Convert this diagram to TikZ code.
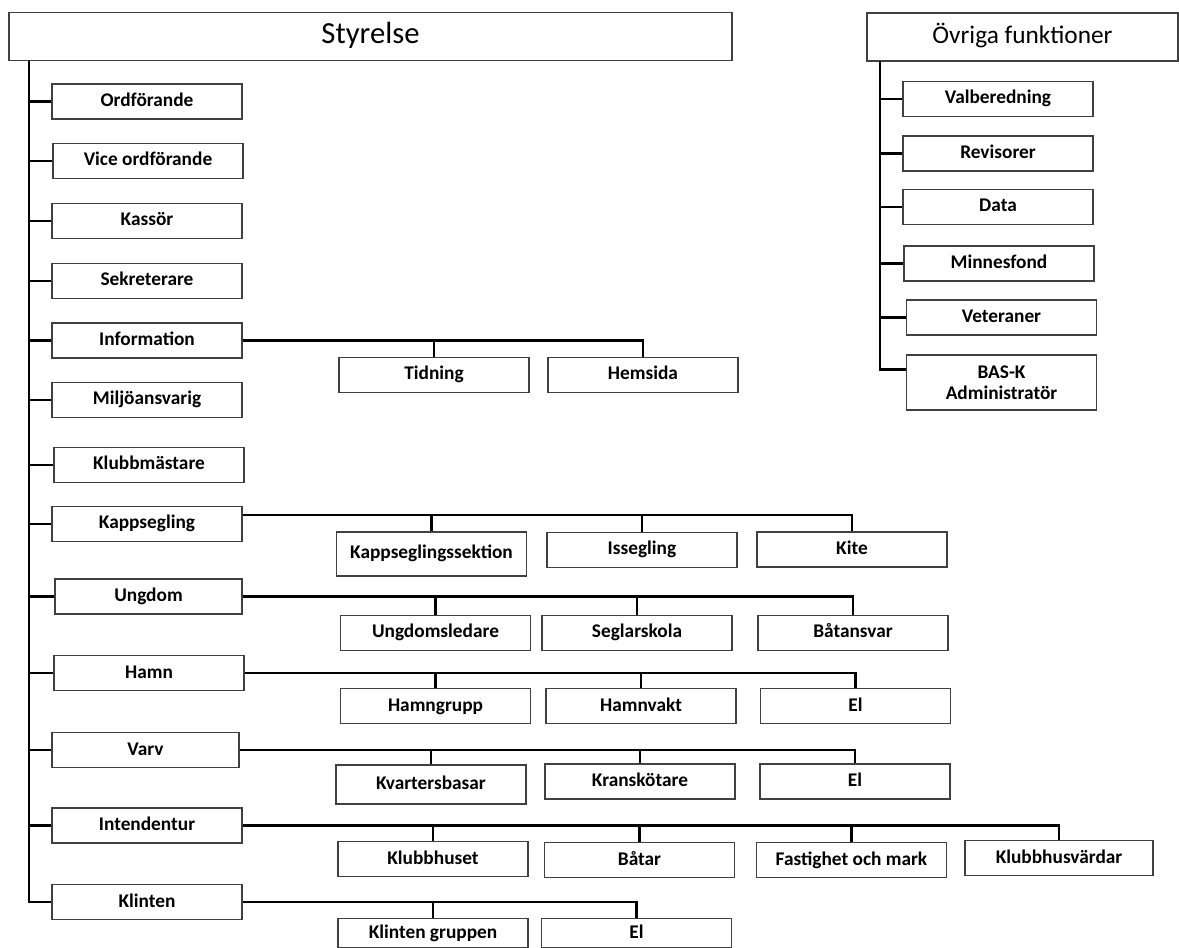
\documentclass[tikz,border=0pt]{standalone}
\usepackage{fontspec}
\setmainfont{Carlito}
\usetikzlibrary{positioning}

\begin{document}
\begin{tikzpicture}[x=0.75pt, y=-0.75pt,
    head/.style={draw=black!75, line width=1.1pt, inner sep=0pt, minimum height=36pt},
    unit/.style={draw=black!75, line width=1.1pt, inner sep=0pt, align=center,
      minimum width=142.5pt, minimum height=26pt, text height=10pt, text depth=2.5pt,
      font=\fontsize{14.5}{15.5}\selectfont\bfseries},
    conn/.style={draw=black, line width=2.2pt}]
  \useasboundingbox (0,0) rectangle (1179,948);

  \node[head, minimum width=542pt, text height=16pt, text depth=5pt,
    font=\fontsize{23}{25}\selectfont] (styrelse) at (370.5,36.5) {Styrelse};
  \node[head, minimum width=233pt, text height=13.5pt, text depth=4pt,
    font=\fontsize{19}{21}\selectfont] (ovriga) at (1022.5,37) {Övriga funktioner};

  \node[unit] (ordf) at (147,101.5) {Ordförande};
  \node[unit] (vice) at (148,161) {Vice ordförande};
  \node[unit] (kassor) at (147,221) {Kassör};
  \node[unit] (sekr) at (147,281) {Sekreterare};
  \node[unit] (info) at (147,340.5) {Information};
  \node[unit] (miljo) at (147,400) {Miljöansvarig};
  \node[unit] (klubbm) at (149,465) {Klubbmästare};
  \node[unit] (kapp) at (147,524) {Kappsegling};
  \node[unit, minimum width=140pt] (ungdom) at (148.5,596.5) {Ungdom};
  \node[unit] (hamn) at (149,673) {Hamn};
  \node[unit, minimum width=140pt] (varv) at (145.5,750) {Varv};
  \node[unit] (intend) at (147,825.5) {Intendentur};
  \node[unit] (klinten) at (147,902) {Klinten};

  \node[unit] (tidning) at (434,375) {Tidning};
  \node[unit] (hemsida) at (643,375) {Hemsida};

  \node[unit, minimum height=33pt] (ksektion) at (431.5,554) {Kappseglingssektion};
  \node[unit] (issegling) at (642,550) {Issegling};
  \node[unit] (kite) at (852,549.5) {Kite};

  \node[unit] (uledare) at (435.5,633) {Ungdomsledare};
  \node[unit] (skola) at (637,633) {Seglarskola};
  \node[unit] (batansvar) at (853,633) {Båtansvar};

  \node[unit] (hgrupp) at (435.5,706) {Hamngrupp};
  \node[unit] (hvakt) at (641,706) {Hamnvakt};
  \node[unit] (hel) at (855.5,706) {El};

  \node[unit, minimum height=29pt] (kvarter) at (431,784.5) {Kvartersbasar};
  \node[unit] (kran) at (640,781.5) {Kranskötare};
  \node[unit] (vel) at (855,781.5) {El};

  \node[unit] (khuset) at (433,859) {Klubbhuset};
  \node[unit] (batar) at (639.5,860) {Båtar};
  \node[unit] (fastighet) at (851.5,860) {Fastighet och mark};
  \node[unit, minimum width=141pt] (kvardar) at (1059,858) {Klubbhusvärdar};

  \node[unit, minimum height=22pt] (kgruppen) at (433,933) {Klinten gruppen};
  \node[unit, minimum height=22pt] (kel) at (636.5,933) {El};

  \node[unit] (valb) at (998,99) {Valberedning};
  \node[unit] (revis) at (998,153.5) {Revisorer};
  \node[unit] (data) at (998,207) {Data};
  \node[unit] (minnes) at (999,263.5) {Minnesfond};
  \node[unit] (veteran) at (1001.5,317.5) {Veteraner};
  \node[unit, minimum height=41pt, text height={}, text depth={}] (bask) at (1001.5,382.5) {BAS-K\\Administratör};

  \coordinate (s0) at (29,61);
  \draw[conn] (s0) |- (klinten.west);
  \foreach \n in {ordf,vice,kassor,sekr,info,miljo,klubbm,kapp,ungdom,hamn,varv,intend}
    \draw[conn] (\n.west) -- (\n.west -| s0);

  \coordinate (o0) at (880,61);
  \coordinate (b0) at ([yshift=9.4pt]bask.west);
  \draw[conn] (o0) |- (b0);
  \foreach \n in {valb,revis,data,minnes,veteran}
    \draw[conn] (\n.west) -- (\n.west -| o0);

  \draw[conn] (info.east) -| (hemsida.north);
  \draw[conn] (tidning.north) -- (tidning.north |- info.east);

  \coordinate (k0) at ([yshift=6.75pt]kapp.east);
  \draw[conn] (k0) -| (kite.north);
  \foreach \n in {ksektion,issegling}
    \draw[conn] (\n.north) -- (\n.north |- k0);

  \draw[conn] (ungdom.east) -| (batansvar.north);
  \foreach \n in {uledare,skola}
    \draw[conn] (\n.north) -- (\n.north |- ungdom.east);

  \draw[conn] (hamn.east) -| (hel.north);
  \foreach \n in {hgrupp,hvakt}
    \draw[conn] (\n.north) -- (\n.north |- hamn.east);

  \draw[conn] (varv.east) -| (vel.north);
  \foreach \n in {kvarter,kran}
    \draw[conn] (\n.north) -- (\n.north |- varv.east);

  \draw[conn] (intend.east) -| (kvardar.north);
  \foreach \n in {khuset,batar,fastighet}
    \draw[conn] (\n.north) -- (\n.north |- intend.east);

  \draw[conn] (klinten.east) -| (kel.north);
  \draw[conn] (kgruppen.north) -- (kgruppen.north |- klinten.east);
\end{tikzpicture}
\end{document}
